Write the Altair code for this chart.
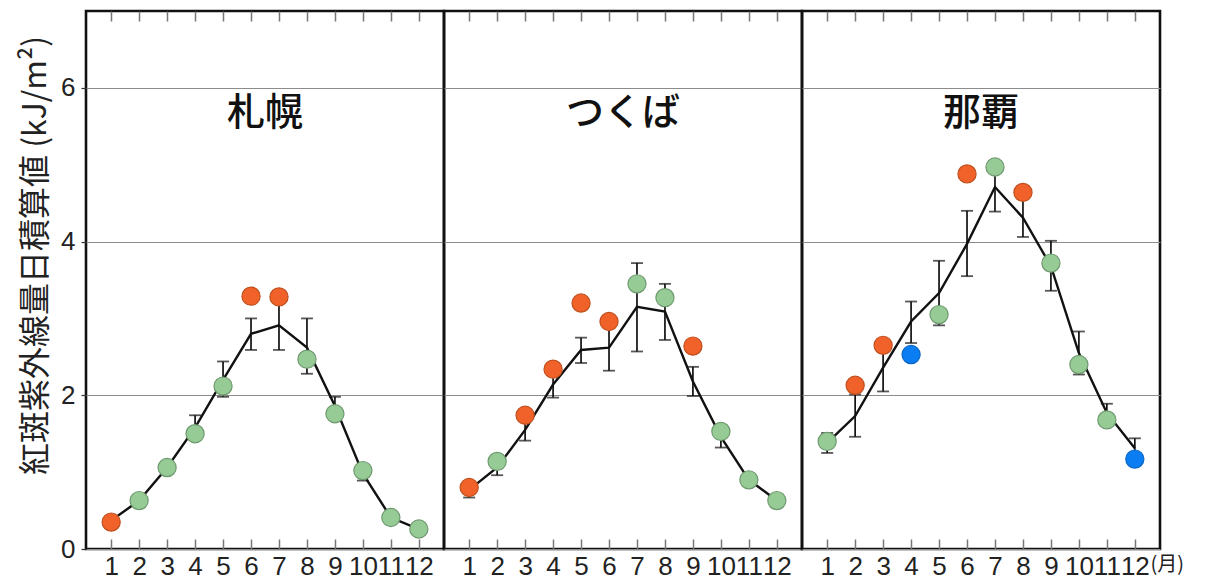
import altair as alt
import pandas as pd

months = list(range(1, 13))

sites = ["札幌", "つくば", "那覇"]

sapporo_mean = [0.37, 0.63, 1.06, 1.58, 2.20, 2.80, 2.91, 2.62, 1.86, 0.98, 0.41, 0.26]
sapporo_lo = [0.33, 0.58, 1.00, 1.45, 1.98, 2.59, 2.59, 2.28, 1.72, 0.89, 0.36, 0.22]
sapporo_hi = [0.41, 0.68, 1.12, 1.74, 2.44, 3.00, 3.23, 3.00, 1.98, 1.08, 0.46, 0.30]
sapporo_obs = [0.35, 0.63, 1.06, 1.50, 2.12, 3.29, 3.28, 2.47, 1.76, 1.02, 0.41, 0.26]
sapporo_cat = ["above", "normal", "normal", "normal", "normal", "above", "above",
               "normal", "normal", "normal", "normal", "normal"]

tsukuba_mean = [0.77, 1.06, 1.55, 2.14, 2.59, 2.62, 3.15, 3.09, 2.18, 1.46, 0.90, 0.63]
tsukuba_lo = [0.67, 0.96, 1.41, 1.97, 2.42, 2.32, 2.57, 2.72, 1.99, 1.32, 0.84, 0.58]
tsukuba_hi = [0.87, 1.16, 1.69, 2.31, 2.75, 2.92, 3.72, 3.45, 2.37, 1.60, 0.96, 0.68]
tsukuba_obs = [0.80, 1.14, 1.74, 2.34, 3.20, 2.96, 3.45, 3.27, 2.64, 1.53, 0.90, 0.63]
tsukuba_cat = ["above", "normal", "above", "above", "above", "above", "normal",
               "normal", "above", "normal", "normal", "normal"]

naha_mean = [1.38, 1.73, 2.36, 2.96, 3.33, 3.97, 4.71, 4.31, 3.68, 2.55, 1.77, 1.31]
naha_lo = [1.25, 1.46, 2.05, 2.68, 2.91, 3.55, 4.39, 4.06, 3.36, 2.27, 1.65, 1.18]
naha_hi = [1.51, 2.01, 2.67, 3.22, 3.75, 4.40, 5.04, 4.56, 4.01, 2.83, 1.89, 1.44]
naha_obs = [1.40, 2.13, 2.65, 2.53, 3.05, 4.88, 4.97, 4.64, 3.72, 2.40, 1.68, 1.17]
naha_cat = ["normal", "above", "above", "below", "normal", "above", "normal",
            "above", "normal", "normal", "normal", "below"]

y_title = "紅斑紫外線量日積算値  (kJ/m²)"
x_unit = "(月)"

cats = ["above", "normal", "below"]
fill_colors = ["#F0622A", "#96CB96", "#0A7DF2"]
stroke_colors = ["#C0501E", "#6F9A6F", "#0A68C8"]

NUM_FONT = "Liberation Sans Narrow, Liberation Sans, sans-serif"
JP_FONT = "Noto Sans CJK JP"

W, H = 358, 538


def panel(name, mean, lo, hi, obs, cat, first, last):
    df = pd.DataFrame({"month": months, "mean": mean, "lo": lo, "hi": hi,
                       "obs": obs, "cat": cat})
    xs = alt.Scale(domain=[0.1, 12.9], nice=False, zero=False)
    ys = alt.Scale(domain=[0, 7], nice=False)
    yaxis = alt.Axis(values=[0, 2, 4, 6], grid=True, gridColor="#8c8c8c",
                     gridWidth=1.2, domain=False, ticks=first, tickSize=5,
                     tickColor="#333", tickWidth=1.2, labels=first,
                     labelFont=NUM_FONT, labelFontSize=26, labelColor="#222",
                     labelPadding=6,
                     title=y_title if first else None,
                     titleFont=JP_FONT, titleFontSize=32, titleFontWeight="normal",
                     titleColor="#222", titlePadding=8, titleY=244)
    bottom_axis = alt.Axis(values=months, format="d", orient="bottom", offset=-10,
                           domain=False, grid=False, tickSize=10, tickColor="#777",
                           tickWidth=1.5, labelFont=NUM_FONT, labelFontSize=26,
                           labelColor="#222", labelPadding=4, labelAngle=0,
                           labelOverlap=False, labelFlush=False,
                           title=x_unit if last else None,
                           titleFont=JP_FONT, titleFontSize=20,
                           titleFontWeight="normal", titleColor="#222",
                           titleX=W - 10, titleY=25, titleAlign="left",
                           titleBaseline="middle")
    top_axis = alt.Axis(values=months, orient="top", offset=-10, domain=False,
                        grid=False, tickSize=10, tickColor="#777", tickWidth=1.5,
                        labels=False, title=None)

    base = alt.Chart(df)
    bars = base.mark_rule(color="#111", strokeWidth=1.7).encode(
        x=alt.X("month:Q", scale=xs, axis=bottom_axis),
        y=alt.Y("lo:Q", scale=ys, axis=yaxis),
        y2="hi:Q",
    )
    cap_lo = base.mark_tick(color="#111", orient="horizontal", size=12,
                            thickness=1.8).encode(
        x=alt.X("month:Q", scale=xs, axis=None),
        y=alt.Y("lo:Q", scale=ys, axis=yaxis),
    )
    cap_hi = base.mark_tick(color="#111", orient="horizontal", size=12,
                            thickness=1.8).encode(
        x=alt.X("month:Q", scale=xs, axis=None),
        y=alt.Y("hi:Q", scale=ys, axis=yaxis),
    )
    line = base.mark_line(color="#111", strokeWidth=2.4).encode(
        x=alt.X("month:Q", scale=xs, axis=top_axis),
        y=alt.Y("mean:Q", scale=ys, axis=yaxis),
    )
    pts = base.mark_circle(size=330, opacity=1, strokeWidth=1.2).encode(
        x=alt.X("month:Q", scale=xs, axis=None),
        y=alt.Y("obs:Q", scale=ys, axis=yaxis),
        fill=alt.Fill("cat:N", scale=alt.Scale(domain=cats, range=fill_colors),
                      legend=None),
        stroke=alt.Stroke("cat:N", scale=alt.Scale(domain=cats, range=stroke_colors),
                          legend=None),
    )
    label = alt.Chart(pd.DataFrame({"site": [name]})).mark_text(
        font=JP_FONT, fontSize=38, fontWeight=500, color="#111", align="center",
        baseline="middle"
    ).encode(
        x=alt.X("tx:Q", scale=xs, axis=None),
        y=alt.Y("ty:Q", scale=ys, axis=yaxis),
        text="site:N",
    ).transform_calculate(tx="6.5", ty="5.66")

    return alt.layer(bars, cap_lo, cap_hi, line, pts, label).resolve_axis(
        x="independent"
    ).properties(width=W, height=H)


p1 = panel(sites[0], sapporo_mean, sapporo_lo, sapporo_hi, sapporo_obs, sapporo_cat,
           True, False)
p2 = panel(sites[1], tsukuba_mean, tsukuba_lo, tsukuba_hi, tsukuba_obs, tsukuba_cat,
           False, False)
p3 = panel(sites[2], naha_mean, naha_lo, naha_hi, naha_obs, naha_cat, False, True)

chart = alt.hconcat(p1, p2, p3, spacing=0, bounds="flush").properties(
    padding={"left": 10, "top": 0, "right": 0, "bottom": 0}
).configure(background="white").configure_view(stroke="#111", strokeWidth=2.6)

chart.save("out.html", embed_options={"renderer": "svg", "actions": False})
